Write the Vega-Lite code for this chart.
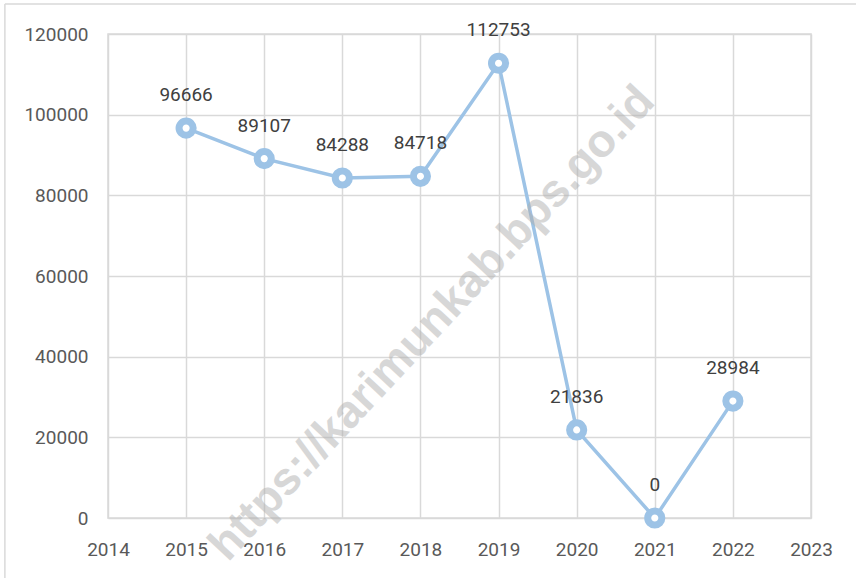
{
  "$schema": "https://vega.github.io/schema/vega-lite/v6.json",
  "width": 703,
  "height": 484,
  "autosize": {"type": "none"},
  "padding": {"left": 108, "top": 34, "right": 45, "bottom": 60},
  "background": "white",
  "config": {
    "view": {"stroke": "#d9d9d9", "strokeWidth": 1.5},
    "axis": {
      "domain": false,
      "ticks": false,
      "gridColor": "#d9d9d9",
      "gridWidth": 1.5,
      "labelFont": "Roboto",
      "labelFontSize": 19,
      "labelColor": "#595959",
      "labelFlush": false,
      "labelOverlap": false,
      "title": null
    }
  },
  "data": {
    "values": [
      {"year": 2015, "value": 96666},
      {"year": 2016, "value": 89107},
      {"year": 2017, "value": 84288},
      {"year": 2018, "value": 84718},
      {"year": 2019, "value": 112753},
      {"year": 2020, "value": 21836},
      {"year": 2021, "value": 0},
      {"year": 2022, "value": 28984}
    ]
  },
  "encoding": {
    "x": {
      "field": "year",
      "type": "quantitative",
      "scale": {"domain": [2014, 2023], "nice": false, "zero": false},
      "axis": {"values": [2014, 2015, 2016, 2017, 2018, 2019, 2020, 2021, 2022, 2023], "format": "d", "labelPadding": 22, "labelBaseline": "top"}
    },
    "y": {
      "field": "value",
      "type": "quantitative",
      "scale": {"domain": [0, 120000], "nice": false},
      "axis": {"values": [0, 20000, 40000, 60000, 80000, 100000, 120000], "format": "d", "labelPadding": 20}
    }
  },
  "layer": [
    {
      "mark": {"type": "line", "color": "#9dc3e6", "strokeWidth": 3.5}
    },
    {
      "mark": {"type": "point", "shape": "circle", "filled": false, "fill": "white", "fillOpacity": 1, "stroke": "#9dc3e6", "strokeWidth": 7, "size": 200, "opacity": 1}
    },
    {
      "mark": {"type": "text", "font": "Roboto", "fontSize": 19, "color": "#404040", "dy": -33, "baseline": "middle", "align": "center"},
      "encoding": {"text": {"field": "value", "type": "quantitative", "format": "d"}}
    },
    {
      "data": {"values": [{"wx": 2018.15, "wy": 48300, "label": "https://karimunkab.bps.go.id"}]},
      "mark": {"type": "text", "font": "Liberation Sans", "fontWeight": "bold", "fontSize": 46, "color": "#b0b0b0", "opacity": 0.5, "angle": -47, "align": "center", "baseline": "middle"},
      "encoding": {
        "x": {"field": "wx", "type": "quantitative"},
        "y": {"field": "wy", "type": "quantitative"},
        "text": {"field": "label"}
      }
    },
    {
      "data": {"values": [{"x1": 2012.68, "x2": 2025, "y1": 127438}]},
      "mark": {"type": "rule", "color": "#d9d9d9", "strokeWidth": 1.5},
      "encoding": {
        "x": {"field": "x1", "type": "quantitative"},
        "x2": {"field": "x2"},
        "y": {"field": "y1", "type": "quantitative"}
      }
    },
    {
      "data": {"values": [{"x1": 2012.68, "y1": 127438, "y2": -25000}]},
      "mark": {"type": "rule", "color": "#d9d9d9", "strokeWidth": 1.5},
      "encoding": {
        "x": {"field": "x1", "type": "quantitative"},
        "y": {"field": "y1", "type": "quantitative"},
        "y2": {"field": "y2"}
      }
    }
  ]
}
